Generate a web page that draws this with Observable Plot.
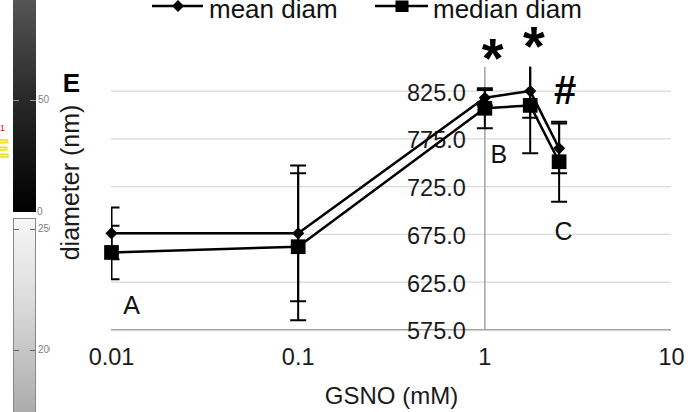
<!DOCTYPE html>
<html>
<head>
<meta charset="utf-8">
<script src="https://cdn.jsdelivr.net/npm/d3@7"></script>
<script src="https://cdn.jsdelivr.net/npm/@observablehq/plot@0.6"></script>
<style>
  html, body { margin: 0; padding: 0; background: #fff; }
  body { width: 695px; height: 412px; position: relative; overflow: hidden; font-family: "Liberation Sans", Arial, Helvetica, sans-serif; }
  #legend { display: block; }
  #chart svg { display: block; }
  g[aria-label="median markers"] path { filter: drop-shadow(0 0 1.5px rgba(0,0,0,0.7)); }
  g[aria-label="mean markers"] path { filter: drop-shadow(0 0 1px rgba(0,0,0,0.5)); }
  .deco { position: absolute; }
  .lbl { position: absolute; font-size: 10px; color: #808080; line-height: 10px; }
</style>
</head>
<body>
<svg id="legend" width="695" height="25" style="overflow:visible">
  <line x1="152" x2="203" y1="6" y2="6" stroke="#000" stroke-width="2.5"/>
  <path d="M178,0 L184,6 L178,12 L172,6 Z" fill="#000"/>
  <text x="209" y="18" font-size="26" fill="#111" font-family="Liberation Sans, Arial, sans-serif">mean diam</text>
  <line x1="375" x2="428" y1="6" y2="6" stroke="#000" stroke-width="2.5"/>
  <rect x="395.5" y="0.5" width="13" height="11.5" fill="#000"/>
  <text x="433" y="18" font-size="26" fill="#111" font-family="Liberation Sans, Arial, sans-serif">median diam</text>
</svg>
<div id="chart"></div>

<!-- cropped neighbouring panel at the left edge -->
<div class="deco" style="left:13px;top:0;width:23px;height:212px;background:linear-gradient(#555,#2a2a2a 45%,#000);"></div>
<div class="deco" style="left:13px;top:100px;width:6px;height:1px;background:#999;"></div>
<div class="deco" style="left:30px;top:100px;width:6px;height:1px;background:#999;"></div>
<div class="lbl" style="left:38px;top:95px;">50</div>
<div class="lbl" style="left:37px;top:207px;">0</div>
<div class="deco" style="left:13px;top:218px;width:21px;height:200px;border:1px solid #888;background:linear-gradient(#f6f6f6,#dcdcdc 40%,#a9a9a9);"></div>
<div class="deco" style="left:14px;top:229px;width:5px;height:1px;background:#666;"></div>
<div class="deco" style="left:30px;top:229px;width:5px;height:1px;background:#666;"></div>
<div class="deco" style="left:14px;top:350px;width:5px;height:1px;background:#666;"></div>
<div class="deco" style="left:30px;top:350px;width:5px;height:1px;background:#666;"></div>
<div class="deco" style="left:38px;top:224px;width:12px;height:12px;overflow:hidden;"><span class="lbl" style="left:0;top:0;">250</span></div>
<div class="deco" style="left:38px;top:345px;width:12px;height:12px;overflow:hidden;"><span class="lbl" style="left:0;top:0;">200</span></div>
<div class="deco" style="left:0;top:124px;font-size:9px;color:#d01010;line-height:9px;">1</div>
<div class="deco" style="left:-7px;top:137px;font-size:24px;line-height:24px;color:#fff8a0;font-weight:bold;-webkit-text-stroke:1.5px #eee21a;">E</div>

<script>
// ---- data ----
const gsno        = [0.01, 0.1, 1, 1.75, 2.5];
const meanDiam    = [676, 676, 818, 825, 765];
const meanErr     = [27, 71, 8, 28, 26];
const medianDiam  = [656, 662, 807, 810, 751];
const medianErr   = [28, 77, 21, 50, 42];

const xTicks      = [0.01, 0.1, 1, 10];
const xTickLabels = ["0.01", "0.1", "1", "10"];
const yTicks      = [575, 625, 675, 725, 775, 825];
const yTickLabels = ["575.0", "625.0", "675.0", "725.0", "775.0", "825.0"];
const yAxisAtX    = 1;

const groupLabels = ["A", "B", "C"];
const groupX      = [0.0128, 1.19, 2.64];
const groupY      = [600, 758, 677];

const sigLabels   = ["*", "*", "#"];
const sigX        = [1.1, 1.83, 2.69];
const sigY        = [858, 871, 825];

// ---- tables built from the arrays ----
const rows = gsno.map((x, i) => ({
  x, mean: meanDiam[i], meanErr: meanErr[i], median: medianDiam[i], medianErr: medianErr[i]
}));
const caps = rows.flatMap(d => [
  {x: d.x, y: d.mean - d.meanErr}, {x: d.x, y: d.mean + d.meanErr},
  {x: d.x, y: d.median - d.medianErr}, {x: d.x, y: d.median + d.medianErr}
]);
const xTickRows = xTicks.map((v, i) => ({v, label: xTickLabels[i]}));
const yTickRows = yTicks.map((v, i) => ({v, label: yTickLabels[i], x: yAxisAtX}));
const groupRows = groupLabels.map((t, i) => ({t, x: groupX[i], y: groupY[i]}));
const sigRows   = sigLabels.map((t, i) => ({t, x: sigX[i], y: sigY[i]}));

const capSymbol = {
  draw(ctx, size) {
    const w = Math.sqrt(size / Math.PI);
    ctx.moveTo(-w, 0); ctx.lineTo(w, 0);
  }
};

const font = "'Liberation Sans', Arial, Helvetica, sans-serif";

const chart = Plot.plot({
  width: 695,
  height: 387,
  marginLeft: 111,
  marginRight: 24,
  marginTop: 41.7,
  marginBottom: 82.7,
  style: {fontFamily: font, background: "#fff", color: "#111", overflow: "visible"},
  x: {type: "log", domain: [0.01, 10], axis: null},
  y: {domain: [575, 850], axis: null},
  marks: [
    Plot.ruleY(yTicks.filter(v => v !== 575), {stroke: "#d9d9d9", strokeWidth: 1.2}),
    Plot.ruleY([575], {stroke: "#a3a3a3", strokeWidth: 1.5}),
    Plot.ruleX([yAxisAtX], {stroke: "#a3a3a3", strokeWidth: 1.5}),
    // y tick labels at the x = 1 crossing
    Plot.text(yTickRows, {x: "x", y: "v", text: "label", textAnchor: "end", lineAnchor: "middle", dx: -19, dy: 2, fontSize: 23.5, fill: "#1a1a1a"}),
    // x tick labels
    Plot.text(xTickRows, {x: "v", text: "label", frameAnchor: "bottom", lineAnchor: "middle", textAnchor: "middle", dy: 28, fontSize: 23.5, fill: "#1a1a1a"}),
    // axis titles and panel letter
    Plot.text(["GSNO (mM)"], {frameAnchor: "bottom", lineAnchor: "middle", textAnchor: "middle", dy: 67, fontSize: 24, fill: "#1a1a1a"}),
    Plot.text(["diameter (nm)"], {frameAnchor: "left", rotate: -90, textAnchor: "middle", lineAnchor: "middle", dx: -41, dy: -16, fontSize: 25, fill: "#1a1a1a"}),
    Plot.text(["E"], {frameAnchor: "top-left", textAnchor: "middle", lineAnchor: "middle", dx: -40, dy: 16, fontSize: 26, fontWeight: "bold", fill: "#000"}),
    // error bars
    Plot.ruleX(rows, {x: "x", y1: d => d.mean - d.meanErr, y2: d => d.mean + d.meanErr, stroke: "#000", strokeWidth: 2, clip: true}),
    Plot.ruleX(rows, {x: "x", y1: d => d.median - d.medianErr, y2: d => d.median + d.medianErr, stroke: "#000", strokeWidth: 2, clip: true}),
    Plot.dot(caps, {x: "x", y: "y", symbol: capSymbol, r: 8, fill: "none", stroke: "#000", strokeWidth: 2, clip: true}),
    // series lines
    Plot.line(rows, {x: "x", y: "mean", stroke: "#000", strokeWidth: 2.5}),
    Plot.line(rows, {x: "x", y: "median", stroke: "#000", strokeWidth: 2.5}),
    // markers
    Plot.dot(rows, {x: "x", y: "mean", symbol: "diamond2", r: 5.5, fill: "#000", stroke: "none", ariaLabel: "mean markers"}),
    Plot.dot(rows, {x: "x", y: "median", symbol: "square", r: 8.3, fill: "#000", stroke: "none", ariaLabel: "median markers"}),
    // annotations
    Plot.text(groupRows, {x: "x", y: "y", text: "t", fontSize: 25, fill: "#111"}),
    Plot.text(sigRows, {x: "x", y: "y", text: "t", fontSize: d => d.t === "#" ? 40 : 56, fontWeight: "bold", fill: "#000"})
  ]
});
document.getElementById("chart").appendChild(chart);
</script>
</body>
</html>
